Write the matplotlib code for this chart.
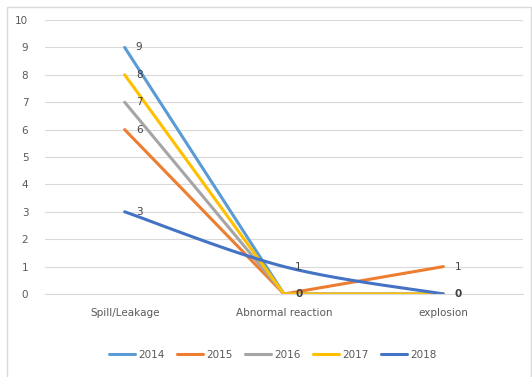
import numpy as np
import matplotlib.pyplot as plt
from matplotlib.patches import Rectangle

# Dados
categorias = ['Spill/Leakage', 'Abnormal reaction', 'explosion']
anos = ['2014', '2015', '2016', '2017', '2018']
v2014 = [9, 0, 0]
v2015 = [6, 0, 1]
v2016 = [7, 0, 0]
v2017 = [8, 0, 0]
v2018 = [3, 1, 0]
series = [v2014, v2015, v2016, v2017, v2018]
cores = ['#5B9BD5', '#ED7D31', '#A5A5A5', '#FFC000', '#4472C4']
suavizada = [False, False, False, False, True]

# Rótulos de dados que aparecem: (série, índice, negrito)
rotulos = [(0, 0, False), (1, 0, False), (2, 0, False), (3, 0, False), (4, 0, False),
           (4, 1, False), (3, 1, True), (1, 2, False), (4, 2, True)]


def curva_suave(y, n=40):
    # spline tipo Catmull-Rom (como a linha suavizada do Excel)
    x = np.arange(len(y), dtype=float)
    y = np.asarray(y, dtype=float)
    px, py = [], []
    for i in range(len(y) - 1):
        x0, x3 = x[i], x[i + 1]
        y0, y3 = y[i], y[i + 1]
        xa = x[i - 1] if i > 0 else x0
        ya = y[i - 1] if i > 0 else y0
        xb = x[i + 2] if i + 2 < len(y) else x3
        yb = y[i + 2] if i + 2 < len(y) else y3
        x1, y1 = x0 + (x3 - xa) / 6, y0 + (y3 - ya) / 6
        x2, y2 = x3 - (xb - x0) / 6, y3 - (yb - y0) / 6
        t = np.linspace(0, 1, n)
        px.append((1-t)**3*x0 + 3*(1-t)**2*t*x1 + 3*(1-t)*t**2*x2 + t**3*x3)
        py.append((1-t)**3*y0 + 3*(1-t)**2*t*y1 + 3*(1-t)*t**2*y2 + t**3*y3)
    return np.concatenate(px), np.concatenate(py)


plt.rcParams['font.family'] = ['Liberation Sans Narrow', 'DejaVu Sans']

fig = plt.figure(figsize=(5.32, 3.77), dpi=100)
ax = fig.add_axes([45/532, 1 - 294/377, 478/532, 274/377])

# moldura do gráfico (só borda esquerda e de cima ficam dentro da imagem)
fig.patches.append(Rectangle((7/532, -20/377), 524/532, 390/377, transform=fig.transFigure,
                             fill=False, edgecolor='#D9D9D9', linewidth=1))

x = np.arange(len(categorias))
for ano, vals, cor, suave in zip(anos, series, cores, suavizada):
    if suave:
        sx, sy = curva_suave(vals)
        ax.plot(sx, sy, color=cor, linewidth=2.2, label=ano, solid_capstyle='round')
    else:
        ax.plot(x, vals, color=cor, linewidth=2.2, label=ano, solid_capstyle='round')

for s, i, negrito in rotulos:
    ax.annotate(str(series[s][i]), (x[i], series[s][i]), xytext=(8, 0),
                textcoords='offset points', va='center', ha='left', fontsize=7.5,
                color='#404040', fontweight='bold' if negrito else 'normal')

ax.set_xlim(-0.5, 2.5)
ax.set_ylim(0, 10)
ax.set_yticks(range(0, 11))
ax.set_xticks(x)
ax.set_xticklabels(categorias)
ax.tick_params(axis='both', length=0, labelsize=7.5, labelcolor='#595959')
ax.tick_params(axis='y', pad=12)
ax.tick_params(axis='x', pad=10)
ax.grid(axis='y', color='#D9D9D9', linewidth=0.8)
ax.set_axisbelow(True)
for lado in ['top', 'right', 'left']:
    ax.spines[lado].set_visible(False)
ax.spines['bottom'].set_color('#D9D9D9')

fig.legend(loc='center', bbox_to_anchor=(273/532, 1 - 355/377), ncol=5, frameon=False,
           fontsize=7.5, handlelength=2.5, handletextpad=0.3, columnspacing=1.2,
           labelcolor='#595959')

plt.savefig('out.png', dpi=100)
